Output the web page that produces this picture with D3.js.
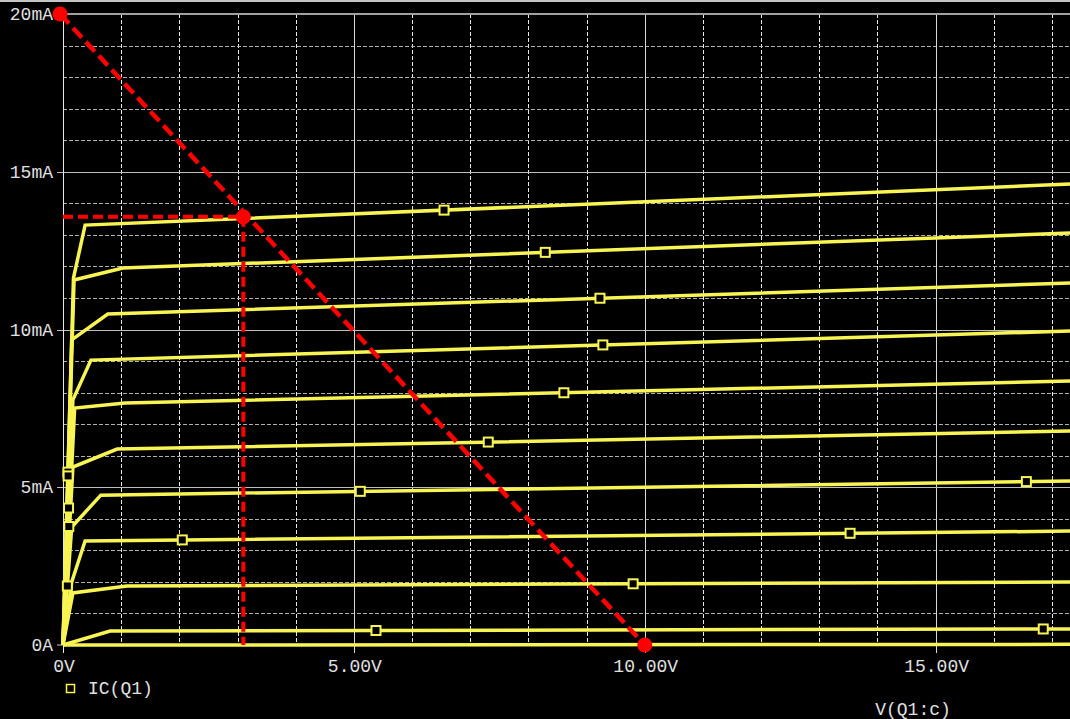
<!DOCTYPE html>
<html>
<head>
<meta charset="utf-8">
<script src="https://cdn.jsdelivr.net/npm/d3@7"></script>
<style>
  html, body { margin: 0; padding: 0; background: #000; }
  svg { display: block; }
  text { font-family: "Liberation Mono", "DejaVu Sans Mono", monospace; }
</style>
</head>
<body>
<svg id="chart" width="1070" height="719"></svg>
<script>
// ---- data (volts, milliamps) ----
const xTickValues = [0, 5, 10, 15];
const xTickLabels = ["0V", "5.00V", "10.00V", "15.00V"];
const yTickValues = [0, 5, 10, 15, 20];
const yTickLabels = ["0A", "5mA", "10mA", "15mA", "20mA"];

const ib0  = [[0,0],[17.31,0.02]];
const ib1  = [[0,0],[0.81,0.44],[17.31,0.51]];
const ib2  = [[0,0],[0.17,1.65],[1.10,1.87],[17.31,2.00]];
const ib3  = [[0,0],[0.15,2.00],[0.38,3.30],[17.31,3.61]];
const ib4  = [[0,0],[0.15,3.74],[0.65,4.75],[17.31,5.20]];
const ib5  = [[0,0],[0.17,5.64],[0.93,6.21],[17.31,6.78]];
const ib6  = [[0,0],[0.20,7.51],[1.07,7.67],[17.31,8.37]];
const ib7  = [[0,0],[0.17,7.77],[0.48,9.03],[17.31,9.95]];
const ib8  = [[0,0],[0.15,9.67],[0.77,10.49],[17.31,11.47]];
const ib9  = [[0,0],[0.19,11.57],[1.03,11.95],[17.31,13.06]];
const ib10 = [[0,0],[0.18,11.63],[0.38,13.31],[17.31,14.61]];
const curves = [ib0, ib1, ib2, ib3, ib4, ib5, ib6, ib7, ib8, ib9, ib10];

// marker positions (volts) along each curve
const markerV = [
  [],
  [5.38, 16.85],
  [9.80],
  [2.05, 13.53],
  [5.11, 16.56, 0.075],
  [7.31],
  [8.61, 0.10],
  [9.28, 0.095],
  [9.23, 0.085],
  [8.29, 0.088],
  [6.55]
];

const loadLine = [[-0.05, 20], [10, 0]];
const qPoint = [3.10, 13.57];
const legendLabel = "IC(Q1)";
const xAxisTitle = "V(Q1:c)";

// ---- drawing ----
const svg = d3.select("#chart");
const W = 1070, H = 719;
const x = d3.scaleLinear().domain([0, 17.31]).range([63, 1070]);
const y = d3.scaleLinear().domain([0, 20]).range([645, 14]);

const textColor = "#e0e0e0";
const yellow = "#f7f453";
const red = "#ff0000";

svg.append("rect").attr("width", W).attr("height", H).attr("fill", "#000");
svg.append("rect").attr("x", 0).attr("y", 0).attr("width", W).attr("height", 2).attr("fill", "#c4c4c4");

const grid = svg.append("g");
// minor vertical dashed (every 1 V)
const vMinor = d3.range(1, 18).filter(v => v % 5 !== 0);
grid.selectAll("line.vmin").data(vMinor).join("line")
  .attr("x1", d => Math.round(x(d)) + 0.5).attr("x2", d => Math.round(x(d)) + 0.5)
  .attr("y1", y(20)).attr("y2", y(0))
  .attr("stroke", "#e8e8e8").attr("stroke-width", 1).attr("stroke-dasharray", "4,2");
// minor horizontal dashed (every 1 mA)
const hMinor = d3.range(1, 20).filter(v => v % 5 !== 0);
grid.selectAll("line.hmin").data(hMinor).join("line")
  .attr("x1", x(0)).attr("x2", W)
  .attr("y1", d => Math.round(y(d)) + 0.5).attr("y2", d => Math.round(y(d)) + 0.5)
  .attr("stroke", "#b0b0b0").attr("stroke-width", 1).attr("stroke-dasharray", "4,2");
// major vertical solid
grid.selectAll("line.vmaj").data([5, 10, 15]).join("line")
  .attr("x1", d => Math.round(x(d)) + 0.5).attr("x2", d => Math.round(x(d)) + 0.5)
  .attr("y1", y(20)).attr("y2", y(0) + 8)
  .attr("stroke", "#d8d8d8").attr("stroke-width", 1);
// major horizontal solid
grid.selectAll("line.hmaj").data([5, 10, 15]).join("line")
  .attr("x1", x(0) - 6).attr("x2", W)
  .attr("y1", d => Math.round(y(d)) + 0.5).attr("y2", d => Math.round(y(d)) + 0.5)
  .attr("stroke", "#bdbdbd").attr("stroke-width", 1);
// top border
grid.append("line").attr("x1", x(0)).attr("x2", W).attr("y1", y(20)).attr("y2", y(20))
  .attr("stroke", "#a0a0a0").attr("stroke-width", 2);
// axes
grid.append("line").attr("x1", x(0) + 0.5).attr("x2", x(0) + 0.5).attr("y1", y(20)).attr("y2", y(0) + 8)
  .attr("stroke", "#e8e8e8").attr("stroke-width", 1);
grid.append("line").attr("x1", x(0) - 6).attr("x2", W).attr("y1", y(0)).attr("y2", y(0))
  .attr("stroke", "#c8c8c8").attr("stroke-width", 1);
grid.append("line").attr("x1", x(0) - 6).attr("x2", x(0)).attr("y1", y(20)).attr("y2", y(20))
  .attr("stroke", "#c8c8c8").attr("stroke-width", 1);

// tick labels
svg.append("g").selectAll("text").data(yTickValues).join("text")
  .attr("x", 53).attr("y", d => y(d) + 6)
  .attr("text-anchor", "end").attr("fill", textColor).attr("font-size", 18)
  .text((d, i) => yTickLabels[i]);
svg.append("g").selectAll("text").data(xTickValues).join("text")
  .attr("x", d => x(d) + 1).attr("y", 672)
  .attr("text-anchor", "middle").attr("fill", textColor).attr("font-size", 18)
  .text((d, i) => xTickLabels[i]);
svg.append("text").attr("x", 913).attr("y", 715).attr("text-anchor", "middle")
  .attr("fill", textColor).attr("font-size", 18).text(xAxisTitle);

// legend
svg.append("rect").attr("x", 66.5).attr("y", 684.5).attr("width", 8).attr("height", 8)
  .attr("fill", "none").attr("stroke", yellow).attr("stroke-width", 1.5);
svg.append("text").attr("x", 88).attr("y", 694).attr("fill", textColor).attr("font-size", 18).text(legendLabel);

// curves
const line = d3.line().x(d => x(d[0])).y(d => y(d[1]));
const curveG = svg.append("g");
curveG.selectAll("path").data(curves).join("path")
  .attr("d", line).attr("fill", "none").attr("stroke", yellow)
  .attr("stroke-width", 3.5).attr("stroke-linejoin", "miter");

function interp(curve, v) {
  for (let i = 1; i < curve.length; i++) {
    const a = curve[i - 1], b = curve[i];
    if (v <= b[0]) return a[1] + (b[1] - a[1]) * (v - a[0]) / (b[0] - a[0]);
  }
  return curve[curve.length - 1][1];
}
const markers = [];
curves.forEach((c, i) => markerV[i].forEach(v => markers.push([v, interp(c, v)])));
curveG.selectAll("rect.mk").data(markers).join("rect")
  .attr("x", d => x(d[0]) - 4.5).attr("y", d => y(d[1]) - 4.5)
  .attr("width", 9).attr("height", 9)
  .attr("fill", "#000").attr("stroke", yellow).attr("stroke-width", 2);

// load line and Q point
const ov = svg.append("g");
ov.append("line")
  .attr("x1", x(loadLine[0][0])).attr("y1", y(loadLine[0][1]))
  .attr("x2", x(loadLine[1][0])).attr("y2", y(loadLine[1][1]))
  .attr("stroke", red).attr("stroke-width", 4.5).attr("stroke-dasharray", "13,6");
ov.append("line")
  .attr("x1", x(0)).attr("y1", y(qPoint[1])).attr("x2", x(qPoint[0])).attr("y2", y(qPoint[1]))
  .attr("stroke", red).attr("stroke-width", 4).attr("stroke-dasharray", "10,5");
ov.append("line")
  .attr("x1", x(qPoint[0])).attr("y1", y(qPoint[1])).attr("x2", x(qPoint[0])).attr("y2", y(0))
  .attr("stroke", red).attr("stroke-width", 4).attr("stroke-dasharray", "10,5");
ov.selectAll("circle").data([loadLine[0], qPoint, loadLine[1]]).join("circle")
  .attr("cx", d => x(d[0])).attr("cy", d => y(d[1])).attr("r", 7.5).attr("fill", red);
</script>
</body>
</html>
